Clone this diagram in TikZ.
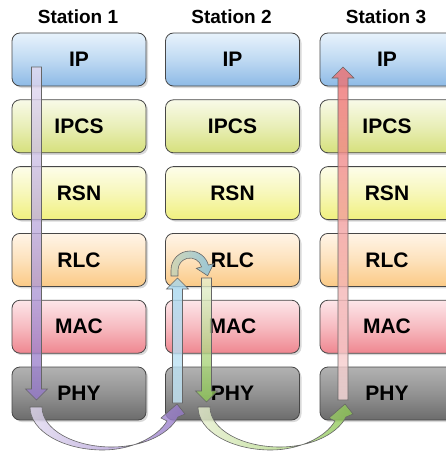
\documentclass[tikz,border=0pt]{standalone}
\usepackage{fontspec}
\setmainfont{Liberation Sans}
\usetikzlibrary{shadows}

% layer colours (top / bottom of the shading)
\definecolor{IPtop}{HTML}{E8F3FC}
\definecolor{IPbot}{HTML}{8DBAE6}
\definecolor{IPCStop}{HTML}{F8FAE8}
\definecolor{IPCSbot}{HTML}{D6E07C}
\definecolor{RSNtop}{HTML}{FDFDEA}
\definecolor{RSNbot}{HTML}{F0F07E}
\definecolor{RLCtop}{HTML}{FFF5E8}
\definecolor{RLCbot}{HTML}{FBCA86}
\definecolor{MACtop}{HTML}{FDE6E9}
\definecolor{MACbot}{HTML}{EF8790}
\definecolor{PHYtop}{HTML}{B2B2B2}
\definecolor{PHYbot}{HTML}{6C6C6C}
% arrow colours
\definecolor{purA}{HTML}{E2DAF0}
\definecolor{purB}{HTML}{9478C8}
\definecolor{bluA}{HTML}{A6D6EE}
\definecolor{bluB}{HTML}{C4E6F6}
\definecolor{grnA}{HTML}{E8F0D0}
\definecolor{grnB}{HTML}{8CC653}
\definecolor{redA}{HTML}{F7D9D9}
\definecolor{redB}{HTML}{EE6E6E}
\definecolor{turnA}{HTML}{C6D2B4}
\definecolor{turnB}{HTML}{7DC0E2}

\begin{document}
\begin{tikzpicture}[x=1pt, y=-1pt,
    layer/.style={draw=black!72, line width=0.8pt, rounded corners=8pt,
      minimum width=134pt, minimum height=53pt,
      font=\fontsize{21}{24}\selectfont\bfseries,
      drop shadow={opacity=0.3, shadow xshift=2pt, shadow yshift=-2pt}},
    layer fill/.style={top color=#1top, bottom color=#1bot, middle color=#1top!55!#1bot},
    hop/.style={draw=black!60, line width=0.6pt, fill opacity=0.8}]
  \useasboundingbox (0,0) rectangle (446,452);

  % stations and their layers
  \foreach \n/\cx in {1/79, 2/232.5, 3/387} {
    \node[font=\fontsize{19}{22}\selectfont\bfseries] (st\n) at (\cx-1,17) {Station \n};
    \foreach \lay/\row in {IP/0, IPCS/1, RSN/2, RLC/3, MAC/4, PHY/5}
      \node[layer, layer fill=\lay] (\lay\n) at (\cx,59.5+66.8*\row) {\lay};
  }

  % down through station 1
  \path[hop, top color=purA, bottom color=purB]
    (31.5,67) -- (41.5,67) -- (41.5,389) -- (47.5,389) -- (36.5,400)
    -- (25.5,389) -- (31.5,389) -- cycle;

  % up through station 2
  \path[hop, top color=bluA, bottom color=bluB]
    (172.5,403) -- (182.5,403) -- (182.5,289) -- (188.5,289) -- (177.5,278)
    -- (166.5,289) -- (172.5,289) -- cycle;

  % turn at RLC of station 2
  \path[hop, left color=turnA, right color=turnB]
    (171,276) -- (171,270) arc[start angle=180, end angle=345, radius=19]
    -- (213.7,263.7) -- (207.6,275.7) -- (196.3,268.3) -- (201.6,266.9)
    arc[start angle=345, end angle=180, radius=12] -- (178,276) -- cycle;

  % down through station 2
  \path[hop, top color=grnA, bottom color=grnB]
    (201.5,278) -- (211.5,278) -- (211.5,391) -- (217.5,391) -- (206.5,402)
    -- (195.5,391) -- (201.5,391) -- cycle;

  % up through station 3
  \path[hop, top color=redB, bottom color=redA]
    (338,400) -- (348,400) -- (348,78) -- (354,78) -- (343,67)
    -- (332,78) -- (338,78) -- cycle;

  % hops from one station to the next
  \foreach \dx/\ca/\cb in {0/purA/purB, 168/grnA/grnB}
    \path[hop, xshift=\dx pt, left color=\ca, right color=\cb]
      (30,407) .. controls (30,431) and (63,450) .. (103,450)
      .. controls (130,450) and (157,438) .. (167,421)
      -- (161,418) -- (177,404) -- (185,414) -- (178,417)
      .. controls (168,436) and (140,447) .. (112,447)
      .. controls (73,447) and (42,429) .. (42,407) -- cycle;
\end{tikzpicture}
\end{document}
